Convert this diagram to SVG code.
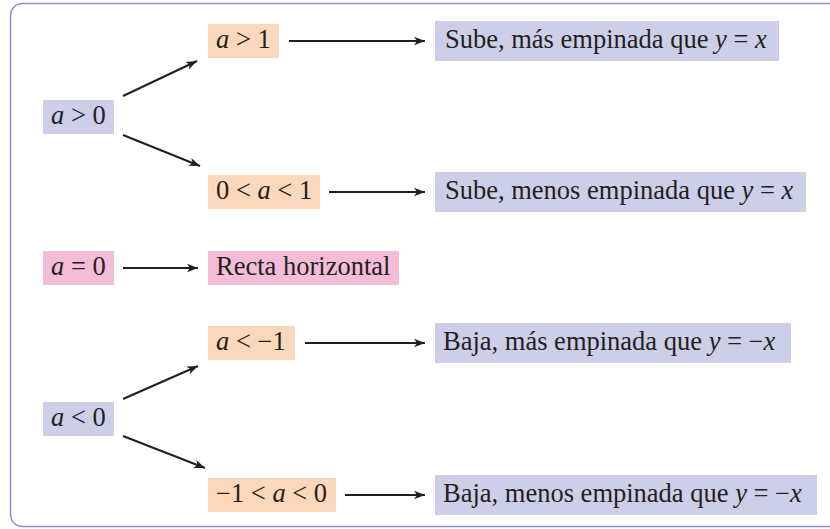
<svg xmlns="http://www.w3.org/2000/svg" width="830" height="529" viewBox="0 0 830 529">
<style>
.i{font-style:italic}
.blue{fill:#cdcfe8}
.orange{fill:#fbd8bb}
.pink{fill:#f4bdd7}
.c{stroke:#231f20;stroke-width:2;fill:none;marker-end:url(#ah)}
</style>
<defs>
<marker id="ah" markerWidth="13" markerHeight="10" refX="11" refY="5" orient="auto" markerUnits="userSpaceOnUse">
<path d="M0,0.8 L11,5 L0,9.2 L3,5 Z" fill="#231f20"/>
</marker>
</defs>
<rect x="10.5" y="3.5" width="840" height="523" rx="12" fill="#fff" stroke="#8a91c9" stroke-width="1.5"/>
<g id="connectors">
<line class="c" x1="123" y1="96" x2="197" y2="61"/>
<line class="c" x1="123" y1="135" x2="200" y2="166"/>
<line class="c" x1="289" y1="41" x2="425" y2="41"/>
<line class="c" x1="329" y1="192" x2="425" y2="192"/>
<line class="c" x1="123" y1="268" x2="198" y2="268"/>
<line class="c" x1="123" y1="399" x2="198" y2="366"/>
<line class="c" x1="123" y1="436" x2="205" y2="468"/>
<line class="c" x1="305" y1="343" x2="425" y2="343"/>
<line class="c" x1="345" y1="495" x2="425" y2="495"/>
</g>
<g id="nodes" font-family="Liberation Serif, Times New Roman, serif" font-size="26.5" fill="#231f20">
<g id="n-a-gt-0"><rect class="blue" x="43" y="100" width="71" height="34"/><text x="51" y="124"><tspan class="i">a</tspan> &gt; 0</text></g>
<g id="n-a-gt-1"><rect class="orange" x="208" y="24" width="71" height="34"/><text x="216" y="48"><tspan class="i">a</tspan> &gt; 1</text></g>
<g id="n-0-a-1"><rect class="orange" x="208" y="175" width="112" height="34"/><text x="216" y="199">0 &lt; <tspan class="i">a</tspan> &lt; 1</text></g>
<g id="n-sube-mas"><rect class="blue" x="435" y="21" width="344" height="40"/><text x="445" y="48">Sube, más empinada que <tspan class="i">y</tspan> = <tspan class="i">x</tspan></text></g>
<g id="n-sube-menos"><rect class="blue" x="435" y="172" width="371" height="40"/><text x="445" y="199">Sube, menos empinada que <tspan class="i">y</tspan> = <tspan class="i">x</tspan></text></g>
<g id="n-a-eq-0"><rect class="pink" x="43" y="251" width="71" height="34"/><text x="51" y="275"><tspan class="i">a</tspan> = 0</text></g>
<g id="n-recta"><rect class="pink" x="208" y="251" width="191" height="34"/><text x="216" y="275">Recta horizontal</text></g>
<g id="n-a-lt-m1"><rect class="orange" x="208" y="326" width="87" height="34"/><text x="216" y="350"><tspan class="i">a</tspan> &lt; −1</text></g>
<g id="n-a-lt-0"><rect class="blue" x="43" y="402" width="71" height="34"/><text x="51" y="426"><tspan class="i">a</tspan> &lt; 0</text></g>
<g id="n-m1-a-0"><rect class="orange" x="208" y="478" width="128" height="34"/><text x="216" y="502">−1 &lt; <tspan class="i">a</tspan> &lt; 0</text></g>
<g id="n-baja-mas"><rect class="blue" x="435" y="323" width="356" height="40"/><text x="443" y="350">Baja, más empinada que <tspan class="i">y</tspan> = −<tspan class="i">x</tspan></text></g>
<g id="n-baja-menos"><rect class="blue" x="435" y="475" width="382" height="40"/><text x="443" y="502">Baja, menos empinada que <tspan class="i">y</tspan> = −<tspan class="i">x</tspan></text></g>
</g>
</svg>
